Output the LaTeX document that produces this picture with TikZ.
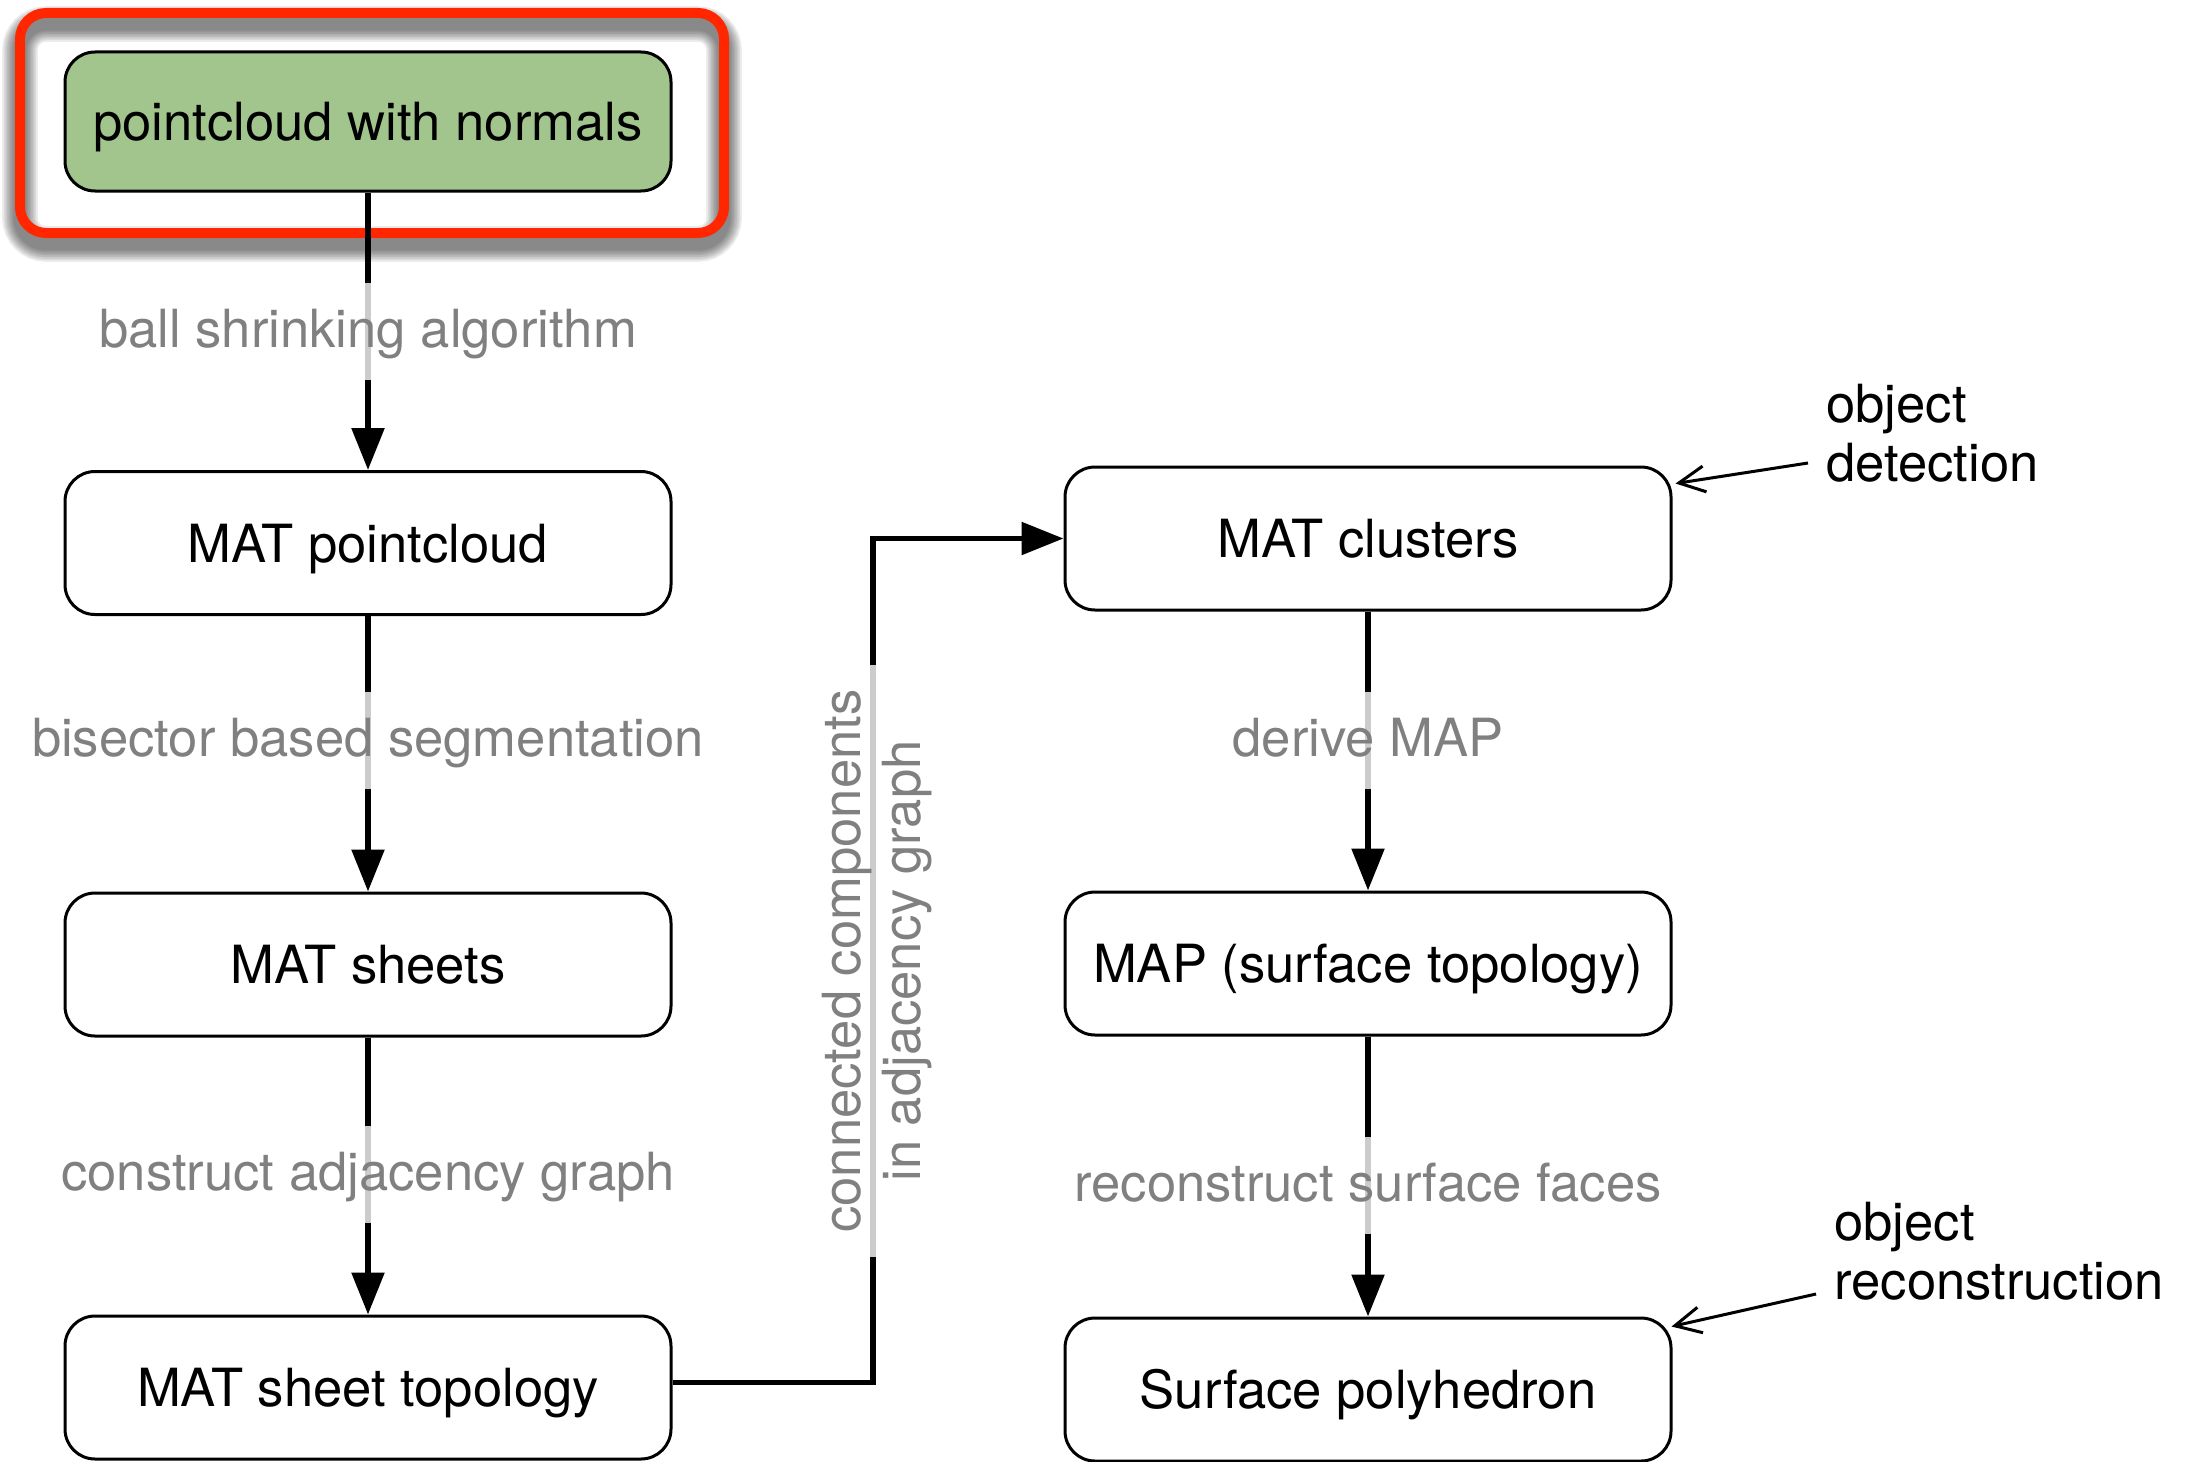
\documentclass[tikz,border=0pt]{standalone}
\usepackage{fontspec}
\setmainfont{TeX Gyre Heros}
\usetikzlibrary{arrows.meta,calc}
\definecolor{boxgreen}{RGB}{161,197,140}
\definecolor{hlred}{RGB}{255,38,0}
\definecolor{lblgray}{RGB}{128,128,128}
\begin{document}
\begin{tikzpicture}[x=0.5pt,y=-0.5pt,
  stage/.style={draw=black, line width=1.5pt, rounded corners=15pt,
    minimum width=303pt, minimum height=71.5pt, inner sep=0pt,
    text height=19pt, text depth=0pt,
    font=\fontsize{26.3}{30}\selectfont},
  flow/.style={line width=2.8pt, -{Triangle[length=21pt,width=16pt]}},
  lbl/.style={fill=white, fill opacity=0.8, text opacity=1, text=lblgray,
    inner xsep=12pt, inner ysep=12pt, text height=20.5pt, text depth=4pt,
    font=\fontsize{26.3}{30}\selectfont},
  vlbl/.style={fill=white, fill opacity=0.8, text opacity=1, text=lblgray,
    inner xsep=12pt, inner ysep=2pt, align=center,
    font=\fontsize{26.3}{30}\selectfont},
  note/.style={align=left, inner sep=0pt, font=\fontsize{26.3}{29.5}\selectfont},
  pointer/.style={line width=1.5pt, -{Straight Barb[length=13pt,width=13pt]}}
]
\useasboundingbox (0,0) rectangle (2187,1461);

% soft shadow of the highlight frame
\foreach \k in {1,...,8}
  \draw[black, opacity=0.075, line width={(5+1.6*\k)*1pt}, rounded corners=13pt]
    (20,24) rectangle (724,244);
% highlight frame
\draw[hlred, line width=5pt, rounded corners=13pt] (20,13) rectangle (724,233);

% pipeline stages
\node[stage, fill=boxgreen, minimum height=69.5pt] (pcn) at (368,121.5) {pointcloud with normals};
\node[stage] (matpc)    at (368,543)    {MAT pointcloud};
\node[stage] (sheets)   at (368,964.5)  {MAT sheets};
\node[stage] (topo)     at (368,1387.5) {MAT sheet topology};
\node[stage] (clusters) at (1368,538.5) {MAT clusters};
\node[stage] (map)      at (1368,963.5) {MAP (surface topology)};
\node[stage] (surf)     at (1368,1389.5){Surface polyhedron};

\coordinate (bend) at (873,538.5);

% connectors
\draw[flow] (pcn) -- (matpc);
\draw[flow] (matpc) -- (sheets);
\draw[flow] (sheets) -- (topo);
\draw[flow] ([yshift=2.5pt]topo.east) -| (bend) -- (clusters.west);
\draw[flow] (clusters) -- (map);
\draw[flow] (map) -- (surf);

% step labels
\node[lbl] (l1) at (368,331)   {ball shrinking algorithm};
\node[lbl] (l2) at (368,740)   {bisector based segmentation};
\node[lbl] (l3) at (368,1174)  {construct adjacency graph};
\node[lbl] (l4) at (1368,740)  {derive MAP};
\node[lbl] (l5) at (1368,1185) {reconstruct surface faces};
\node[vlbl, rotate=90] (l6) at (877,961) {connected components\\in adjacency graph};

% annotations
\node[note, anchor=west] (det) at (1826,433.5) {object\\detection};
\node[note, anchor=west] (rec) at (1834,1251) {object\\reconstruction};
\coordinate (detfrom) at (1808,463);
\coordinate (recfrom) at (1816,1294);
\draw[pointer] (detfrom) -- ($(clusters.north east)+(3,18)$);
\draw[pointer] (recfrom) -- ($(surf.north east)+(-1,10)$);
\end{tikzpicture}
\end{document}
